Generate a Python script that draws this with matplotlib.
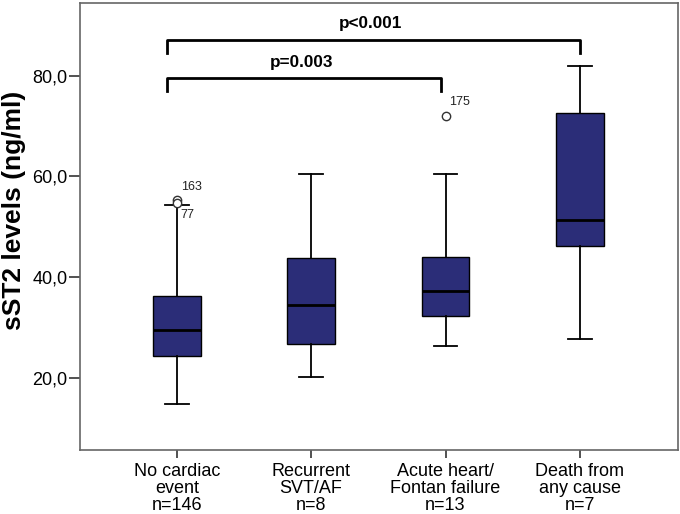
import numpy as np
import matplotlib
matplotlib.use("Agg")
import matplotlib.pyplot as plt

plt.rcParams['font.family'] = ['Liberation Sans', 'DejaVu Sans']

# values
groups = ["No cardiac\nevent\nn=146", "Recurrent\nSVT/AF\nn=8",
          "Acute heart/\nFontan failure\nn=13", "Death from\nany cause\nn=7"]
q1 = [24.2, 26.6, 32.3, 46.2]
med = [29.4, 34.5, 37.3, 51.3]
q3 = [36.3, 43.8, 43.9, 72.6]
whislo = [14.7, 20.2, 26.3, 27.6]
whishi = [54.3, 60.5, 60.5, 82.0]
fliers = [[55.3, 54.8], [], [72.0], []]
flier_ids = [["163", "77"], [], ["175"], []]
yticks = [20, 40, 60, 80]

stats = []
for i in range(len(groups)):
    stats.append(dict(med=med[i], q1=q1[i], q3=q3[i], whislo=whislo[i],
                      whishi=whishi[i], fliers=fliers[i]))

fig = plt.figure(figsize=(6.8, 5.14), dpi=100)
ax = fig.add_axes([80 / 680, 64 / 514, 598 / 680, 447 / 514])

pos = np.arange(1, len(groups) + 1)
ax.bxp(stats, positions=pos, widths=0.355, patch_artist=True,
       boxprops=dict(facecolor="#2b2d78", edgecolor="black", linewidth=1.0),
       medianprops=dict(color="black", linewidth=2.0),
       whiskerprops=dict(color="black", linewidth=1.3),
       capprops=dict(color="black", linewidth=1.3),
       flierprops=dict(marker="o", markerfacecolor="white", markeredgecolor="#333333",
                       markersize=6, markeredgewidth=1.0))

# outlier case numbers
ax.text(1.03, 57.9, flier_ids[0][0], fontsize=9, va="center", ha="left", color="#222222")
ax.text(1.03, 52.4, flier_ids[0][1], fontsize=9, va="center", ha="left", color="#222222")
ax.text(3.03, 74.9, flier_ids[2][0], fontsize=9, va="center", ha="left", color="#222222")

# significance brackets
ax.plot([0.93, 0.93, 4.0, 4.0], [84.6, 87.2, 87.2, 84.6], color="black", lw=2.0)
ax.text(2.44, 89.0, "p<0.001", fontsize=12.3, fontweight="bold", ha="center", va="bottom")
ax.plot([0.93, 0.93, 2.97, 2.97], [76.9, 79.5, 79.5, 76.9], color="black", lw=2.0)
ax.text(1.93, 81.2, "p=0.003", fontsize=12.3, fontweight="bold", ha="center", va="bottom")

ax.set_xlim(0.28, 4.73)
ax.set_ylim(5.6, 94.5)
ax.set_xticks(pos)
ax.set_xticklabels(groups, fontsize=13, linespacing=1.02)
ax.set_yticks(yticks)
ax.set_yticklabels([("%.1f" % t).replace(".", ",") for t in yticks], fontsize=13)
ax.tick_params(axis="x", length=6, width=1.2, color="#333333", pad=3)
ax.tick_params(axis="y", length=8, width=1.2, color="#333333", pad=1)
for s in ax.spines.values():
    s.set_color("#666666")
    s.set_linewidth(1.2)
ax.set_ylabel("sST2 levels (ng/ml)", fontsize=19, fontweight="bold")
ax.yaxis.set_label_coords(-0.09, 0.535)

plt.savefig("out.png", dpi=100)
